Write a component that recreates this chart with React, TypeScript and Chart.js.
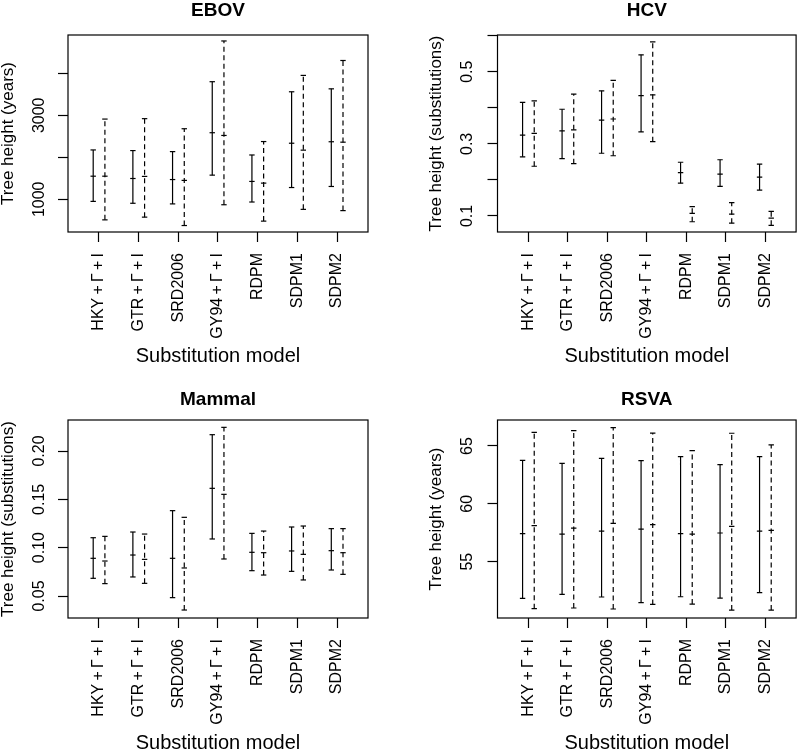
import React, { useEffect, useRef } from 'react';
import { Chart, registerables } from 'chart.js';

Chart.register(...registerables);

const FONT = '"Liberation Sans", Arial, Helvetica, sans-serif';
const TS = '\u2009';

// ---------- shared categories ----------
const categories = [
  `HKY${TS}+${TS}Γ${TS}+${TS}I`,
  `GTR${TS}+${TS}Γ${TS}+${TS}I`,
  'SRD2006',
  `GY94${TS}+${TS}Γ${TS}+${TS}I`,
  'RDPM',
  'SDPM1',
  'SDPM2',
];
const categoryPositions = [1, 2, 3, 4, 5, 6, 7];

// ---------- EBOV ----------
const ebovSolidLow = [950, 905, 890, 1575, 935, 1280, 1305];
const ebovSolidMean = [1550, 1495, 1470, 2585, 1425, 2335, 2370];
const ebovSolidHigh = [2175, 2160, 2135, 3800, 2055, 3560, 3630];
const ebovDashLow = [510, 575, 375, 870, 480, 760, 730];
const ebovDashMean = [1550, 1545, 1450, 2520, 1385, 2170, 2360];
const ebovDashHigh = [2910, 2920, 2680, 4770, 2375, 3950, 4305];
const ebovYTicks = [1000, 2000, 3000, 4000];
const ebovYLabels = ['1000', '', '3000', ''];

// ---------- HCV ----------
const hcvSolidLow = [0.264, 0.259, 0.274, 0.333, 0.191, 0.182, 0.172];
const hcvSolidMean = [0.324, 0.336, 0.366, 0.434, 0.22, 0.216, 0.208];
const hcvSolidHigh = [0.415, 0.396, 0.447, 0.547, 0.249, 0.256, 0.244];
const hcvDashLow = [0.238, 0.245, 0.267, 0.306, 0.084, 0.08, 0.074];
const hcvDashMean = [0.329, 0.339, 0.369, 0.436, 0.107, 0.105, 0.094];
const hcvDashHigh = [0.419, 0.438, 0.476, 0.583, 0.126, 0.137, 0.113];
const hcvYTicks = [0.1, 0.2, 0.3, 0.4, 0.5, 0.6];
const hcvYLabels = ['0.1', '', '0.3', '', '0.5', ''];

// ---------- Mammal ----------
const mammalSolidLow = [0.0683, 0.0697, 0.0483, 0.109, 0.0762, 0.0755, 0.0769];
const mammalSolidMean = [0.089, 0.0924, 0.089, 0.1614, 0.0952, 0.0966, 0.0969];
const mammalSolidHigh = [0.1103, 0.1162, 0.1383, 0.2169, 0.1148, 0.1214, 0.1197];
const mammalDashLow = [0.0628, 0.0631, 0.0355, 0.0883, 0.0717, 0.0666, 0.0724];
const mammalDashMean = [0.0862, 0.0879, 0.079, 0.1552, 0.0948, 0.0931, 0.0948];
const mammalDashHigh = [0.1117, 0.1141, 0.1314, 0.2245, 0.1172, 0.1224, 0.1197];
const mammalYTicks = [0.05, 0.1, 0.15, 0.2];
const mammalYLabels = ['0.05', '0.10', '0.15', '0.20'];

// ---------- RSVA ----------
const rsvaSolidLow = [51.83, 52.18, 51.95, 51.46, 51.97, 51.86, 52.32];
const rsvaSolidMean = [57.42, 57.39, 57.65, 57.82, 57.42, 57.48, 57.65];
const rsvaSolidHigh = [63.76, 63.5, 63.93, 63.73, 64.08, 63.39, 64.08];
const rsvaDashLow = [50.94, 51.0, 50.91, 51.31, 51.34, 50.82, 50.82];
const rsvaDashMean = [58.11, 57.91, 58.31, 58.2, 57.39, 58.05, 57.71];
const rsvaDashHigh = [66.18, 66.33, 66.59, 66.12, 64.6, 66.1, 65.09];
const rsvaYTicks = [55, 60, 65];
const rsvaYLabels = ['55', '60', '65'];

const xTitle = 'Substitution model';

type Panel = {
  title: string;
  yTitle: string;
  solidLow: number[];
  solidMean: number[];
  solidHigh: number[];
  dashLow: number[];
  dashMean: number[];
  dashHigh: number[];
  yTicks: number[];
  yLabels: string[];
  yMin: number;
  yMax: number;
  W: number;
  H: number;
  posX: number;
  posY: number;
  area: { l: number; r: number; t: number; b: number };
  titlePadTop: number;
  yTitlePad: number;
  yLabelX: number;
  xTickPad: number;
  xTitlePad: number;
};

const panels: Panel[] = [
  {
    title: 'EBOV', yTitle: 'Tree height (years)',
    solidLow: ebovSolidLow, solidMean: ebovSolidMean, solidHigh: ebovSolidHigh,
    dashLow: ebovDashLow, dashMean: ebovDashMean, dashHigh: ebovDashHigh,
    yTicks: ebovYTicks, yLabels: ebovYLabels, yMin: 221, yMax: 4912,
    W: 400, H: 376, posX: 0, posY: 0,
    area: { l: 68, r: 368, t: 35, b: 232 },
    titlePadTop: 1.2, yTitlePad: 0, yLabelX: 39.2, xTickPad: 11, xTitlePad: 10,
  },
  {
    title: 'HCV', yTitle: 'Tree height (substitutions)',
    solidLow: hcvSolidLow, solidMean: hcvSolidMean, solidHigh: hcvSolidHigh,
    dashLow: hcvDashLow, dashMean: hcvDashMean, dashHigh: hcvDashHigh,
    yTicks: hcvYTicks, yLabels: hcvYLabels, yMin: 0.0556, yMax: 0.6019,
    W: 400, H: 376, posX: 400, posY: 0,
    area: { l: 97.5, r: 396.5, t: 35, b: 232 },
    titlePadTop: 1.5, yTitlePad: 28.3, yLabelX: 67.5, xTickPad: 11, xTitlePad: 10,
  },
  {
    title: 'Mammal', yTitle: 'Tree height (substitutions)',
    solidLow: mammalSolidLow, solidMean: mammalSolidMean, solidHigh: mammalSolidHigh,
    dashLow: mammalDashLow, dashMean: mammalDashMean, dashHigh: mammalDashHigh,
    yTicks: mammalYTicks, yLabels: mammalYLabels, yMin: 0.02724, yMax: 0.2321,
    W: 400, H: 377, posX: 0, posY: 376,
    area: { l: 68, r: 368, t: 44, b: 242 },
    titlePadTop: 14.5, yTitlePad: 0, yLabelX: 39.2, xTickPad: 11, xTitlePad: 0,
  },
  {
    title: 'RSVA', yTitle: 'Tree height (years)',
    solidLow: rsvaSolidLow, solidMean: rsvaSolidMean, solidHigh: rsvaSolidHigh,
    dashLow: rsvaDashLow, dashMean: rsvaDashMean, dashHigh: rsvaDashHigh,
    yTicks: rsvaYTicks, yLabels: rsvaYLabels, yMin: 50.134, yMax: 67.247,
    W: 400, H: 377, posX: 400, posY: 376,
    area: { l: 97.5, r: 396.5, t: 44, b: 242 },
    titlePadTop: 14.5, yTitlePad: 28.3, yLabelX: 67.5, xTickPad: 11, xTitlePad: 0,
  },
];

const SOLID_OFFSET = -0.145;
const DASH_OFFSET = 0.15;
const X_MIN = 0.22;
const X_MAX = 7.78;
const LINE_W = 1.2;
const CAP_R = 2.7;
const TITLE_SIZE = 19;
const TICK_FONT_SIZE = 16;

function barPoints(low: number[], high: number[], off: number) {
  const pts: { x: number; y: number | null }[] = [];
  low.forEach((lo, i) => {
    const x = categoryPositions[i] + off;
    pts.push({ x, y: lo }, { x, y: high[i] }, { x, y: null });
  });
  return pts;
}

function meanPoints(mean: number[], off: number) {
  return mean.map((m, i) => ({ x: categoryPositions[i] + off, y: m }));
}

function makeFramePlugin(p: Panel) {
  return {
    id: 'plotFrame',
    afterDraw(chart: any) {
      const { ctx, chartArea: a } = chart;
      ctx.save();
      ctx.strokeStyle = '#000';
      ctx.lineWidth = LINE_W;
      ctx.setLineDash([]);
      ctx.strokeRect(a.left, a.top, a.right - a.left, a.bottom - a.top);
      // y tick labels, parallel to the axis (R style), placed with the y scale
      const yScale = chart.scales.y;
      ctx.fillStyle = '#000';
      ctx.font = `${TICK_FONT_SIZE}px ${FONT}`;
      ctx.textAlign = 'center';
      ctx.textBaseline = 'middle';
      p.yTicks.forEach((v, i) => {
        const lab = p.yLabels[i];
        if (!lab) return;
        const py = yScale.getPixelForValue(v);
        ctx.save();
        ctx.translate(p.yLabelX, py);
        ctx.rotate(-Math.PI / 2);
        ctx.fillText(lab, 0, 0);
        ctx.restore();
      });
      ctx.restore();
    },
  };
}

function PanelChart({ p }: { p: Panel }) {
  const ref = useRef<HTMLCanvasElement>(null);
  useEffect(() => {
    const canvas = ref.current!;
    const barStyle = {
      showLine: true,
      borderColor: '#000',
      borderWidth: LINE_W,
      pointStyle: 'line',
      pointRadius: CAP_R,
      pointHoverRadius: CAP_R,
      pointBorderColor: '#000',
      pointBorderWidth: LINE_W,
      spanGaps: false,
      tension: 0,
      fill: false,
    };
    const meanStyle = {
      showLine: false,
      pointStyle: 'line',
      pointRadius: CAP_R,
      pointHoverRadius: CAP_R,
      pointBorderColor: '#000',
      pointBorderWidth: LINE_W,
    };
    const chart = new Chart(canvas, {
      type: 'scatter',
      data: {
        datasets: [
          { ...barStyle, label: 'solid', data: barPoints(p.solidLow, p.solidHigh, SOLID_OFFSET) } as any,
          { ...barStyle, label: 'dashed', borderDash: [5, 3.5], data: barPoints(p.dashLow, p.dashHigh, DASH_OFFSET) } as any,
          { ...meanStyle, label: 'solid mean', data: meanPoints(p.solidMean, SOLID_OFFSET) } as any,
          { ...meanStyle, label: 'dashed mean', data: meanPoints(p.dashMean, DASH_OFFSET) } as any,
        ],
      },
      options: {
        animation: false,
        responsive: false,
        devicePixelRatio: 1,
        events: [],
        layout: { padding: { left: 0, right: p.W - p.area.r, top: 0, bottom: 0 } },
        plugins: {
          legend: { display: false },
          tooltip: { enabled: false },
          title: {
            display: true,
            text: p.title,
            fullSize: false,
            color: '#000',
            font: { family: FONT, size: TITLE_SIZE, weight: 'bold', lineHeight: 1 },
            padding: { top: p.titlePadTop, bottom: p.area.t - p.titlePadTop - TITLE_SIZE },
          },
        },
        scales: {
          x: {
            type: 'linear',
            position: 'bottom',
            min: X_MIN,
            max: X_MAX,
            bounds: 'data',
            afterBuildTicks: (s: any) => {
              s.ticks = categoryPositions.map((v) => ({ value: v }));
            },
            afterFit: (s: any) => {
              s.height = p.H - p.area.b;
            },
            ticks: {
              autoSkip: false,
              minRotation: 90,
              maxRotation: 90,
              padding: p.xTickPad,
              color: '#000',
              font: { family: FONT, size: TICK_FONT_SIZE },
              callback: (_v: any, i: number) => categories[i],
            },
            grid: {
              display: true,
              drawOnChartArea: false,
              drawTicks: true,
              tickLength: 10,
              tickColor: '#000',
              tickWidth: LINE_W,
            },
            border: { display: false },
            title: {
              display: true,
              text: xTitle,
              color: '#000',
              font: { family: FONT, size: 20, lineHeight: 1 },
              padding: { top: 0, bottom: p.xTitlePad },
            },
          },
          y: {
            type: 'linear',
            position: 'left',
            min: p.yMin,
            max: p.yMax,
            bounds: 'data',
            afterBuildTicks: (s: any) => {
              s.ticks = p.yTicks.map((v) => ({ value: v }));
            },
            afterFit: (s: any) => {
              s.width = p.area.l;
            },
            ticks: {
              display: false,
              autoSkip: false,
              callback: (_v: any, i: number) => p.yLabels[i],
            },
            grid: {
              display: true,
              drawOnChartArea: false,
              drawTicks: true,
              tickLength: 10,
              tickColor: '#000',
              tickWidth: LINE_W,
            },
            border: { display: false },
            title: {
              display: true,
              text: p.yTitle,
              color: '#000',
              font: { family: FONT, size: 17, lineHeight: 1 },
              padding: { top: p.yTitlePad, bottom: 0 },
            },
          },
        },
      } as any,
      plugins: [makeFramePlugin(p)],
    });
    return () => chart.destroy();
  }, [p]);
  return (
    <canvas
      ref={ref}
      width={p.W}
      height={p.H}
      style={{ position: 'absolute', left: p.posX, top: p.posY, width: p.W, height: p.H, display: 'block' }}
    />
  );
}

export default function App() {
  return (
    <div style={{ position: 'absolute', left: 0, top: 0, width: 800, height: 753, background: '#fff' }}>
      {panels.map((p) => (
        <PanelChart key={p.title} p={p} />
      ))}
    </div>
  );
}
